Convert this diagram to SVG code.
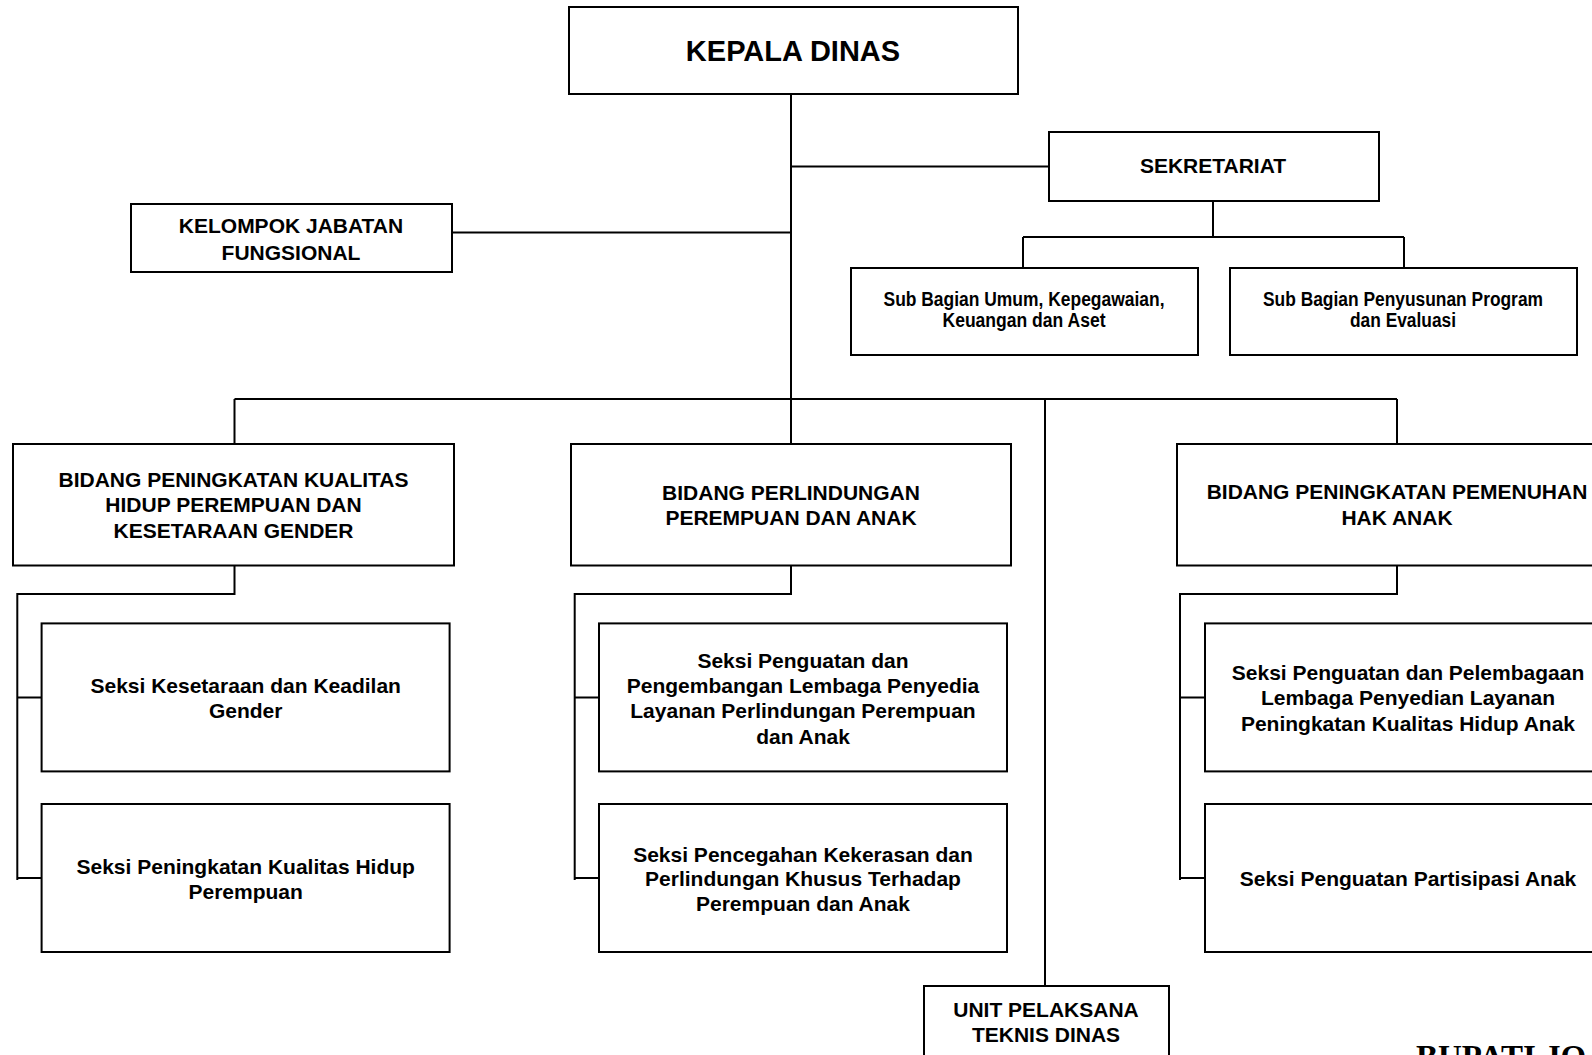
<svg xmlns="http://www.w3.org/2000/svg" width="1592" height="1055" viewBox="0 0 1592 1055">
<style>
.box{fill:#fff;stroke:#000;stroke-width:2}
.t{font-family:"Liberation Sans",Arial,sans-serif;font-weight:bold;font-size:21px;text-anchor:middle;fill:#000}
.big{font-size:29px}
.nar{font-size:20px}
.ser{font-family:"Liberation Serif","Times New Roman",serif;font-weight:bold;font-size:33px;fill:#000}
#connectors path{fill:none;stroke:#000;stroke-width:2}
</style>
<rect width="1592" height="1055" fill="#fff"/>
<g id="connectors">
<path d="M791 94V444"/>
<path d="M791 166.5H1049"/>
<path d="M452 232.5H791"/>
<path d="M1213 201V237M1023 237H1404M1023 237V268M1404 237V268"/>
<path d="M234.5 399H1397M234.5 399V444M1045 399V986M1397 399V444"/>
<path d="M234.5 565.5V594H17.3V880M17.3 697.5H41.6M17.3 878H41.6"/>
<path d="M791 565.5V594H574.7V880M574.7 697.5H599M574.7 878H599"/>
<path d="M1397 565.5V594H1180V880M1180 697.5H1205M1180 878H1205"/>
</g>
<g id="kepala">
<rect class="box" x="569" y="7" width="449" height="87"/>
<text class="t big" x="793" y="61">KEPALA DINAS</text>
</g>
<g id="sekretariat">
<rect class="box" x="1049" y="132" width="330" height="69"/>
<text class="t" x="1213" y="173">SEKRETARIAT</text>
</g>
<g id="subbag-umum">
<rect class="box" x="851" y="268" width="347" height="87"/>
<text class="t nar" x="1024" y="306" textLength="281" lengthAdjust="spacingAndGlyphs">Sub Bagian Umum, Kepegawaian,</text>
<text class="t nar" x="1024" y="327" textLength="163" lengthAdjust="spacingAndGlyphs">Keuangan dan Aset</text>
</g>
<g id="subbag-program">
<rect class="box" x="1230" y="268" width="347" height="87"/>
<text class="t nar" x="1403" y="306" textLength="280" lengthAdjust="spacingAndGlyphs">Sub Bagian Penyusunan Program</text>
<text class="t nar" x="1403" y="327" textLength="106" lengthAdjust="spacingAndGlyphs">dan Evaluasi</text>
</g>
<g id="kelompok">
<rect class="box" x="131" y="204" width="321" height="68"/>
<text class="t" x="291" y="233">KELOMPOK JABATAN</text>
<text class="t" x="291" y="259.5">FUNGSIONAL</text>
</g>
<g id="bidang-kualitas">
<rect class="box" x="13" y="444" width="441" height="121.5"/>
<text class="t" x="233.5" y="486.5">BIDANG PENINGKATAN KUALITAS</text>
<text class="t" x="233.5" y="512">HIDUP PEREMPUAN DAN</text>
<text class="t" x="233.5" y="537.5">KESETARAAN GENDER</text>
</g>
<g id="bidang-perlindungan">
<rect class="box" x="571" y="444" width="440" height="121.5"/>
<text class="t" x="791" y="500">BIDANG PERLINDUNGAN</text>
<text class="t" x="791" y="524.5">PEREMPUAN DAN ANAK</text>
</g>
<g id="bidang-anak">
<rect class="box" x="1177" y="444" width="440" height="121.5"/>
<text class="t" x="1397" y="499">BIDANG PENINGKATAN PEMENUHAN</text>
<text class="t" x="1397" y="524.5">HAK ANAK</text>
</g>
<g id="seksi-kesetaraan">
<rect class="box" x="41.6" y="623.4" width="408" height="148"/>
<text class="t" x="245.7" y="692.5">Seksi Kesetaraan dan Keadilan</text>
<text class="t" x="245.7" y="718">Gender</text>
</g>
<g id="seksi-kualitas-perempuan">
<rect class="box" x="41.6" y="804" width="408" height="148"/>
<text class="t" x="245.7" y="873.5">Seksi Peningkatan Kualitas Hidup</text>
<text class="t" x="245.7" y="899">Perempuan</text>
</g>
<g id="seksi-penguatan-lembaga">
<rect class="box" x="599" y="623.4" width="408" height="148"/>
<text class="t" x="803" y="667.5">Seksi Penguatan dan</text>
<text class="t" x="803" y="692.5">Pengembangan Lembaga Penyedia</text>
<text class="t" x="803" y="718">Layanan Perlindungan Perempuan</text>
<text class="t" x="803" y="743.5">dan Anak</text>
</g>
<g id="seksi-pencegahan">
<rect class="box" x="599" y="804" width="408" height="148"/>
<text class="t" x="803" y="861.5">Seksi Pencegahan Kekerasan dan</text>
<text class="t" x="803" y="885.5">Perlindungan Khusus Terhadap</text>
<text class="t" x="803" y="911">Perempuan dan Anak</text>
</g>
<g id="seksi-pelembagaan">
<rect class="box" x="1205" y="623.4" width="408" height="148"/>
<text class="t" x="1408" y="679.5">Seksi Penguatan dan Pelembagaan</text>
<text class="t" x="1408" y="705">Lembaga Penyedian Layanan</text>
<text class="t" x="1408" y="730.5">Peningkatan Kualitas Hidup Anak</text>
</g>
<g id="seksi-partisipasi">
<rect class="box" x="1205" y="804" width="408" height="148"/>
<text class="t" x="1408" y="885.5">Seksi Penguatan Partisipasi Anak</text>
</g>
<g id="upt">
<rect class="box" x="924" y="986" width="245" height="100"/>
<text class="t" x="1046" y="1016.5">UNIT PELAKSANA</text>
<text class="t" x="1046" y="1042">TEKNIS DINAS</text>
</g>
<text class="ser" x="1416" y="1068">BUPATI JO</text>
</svg>
